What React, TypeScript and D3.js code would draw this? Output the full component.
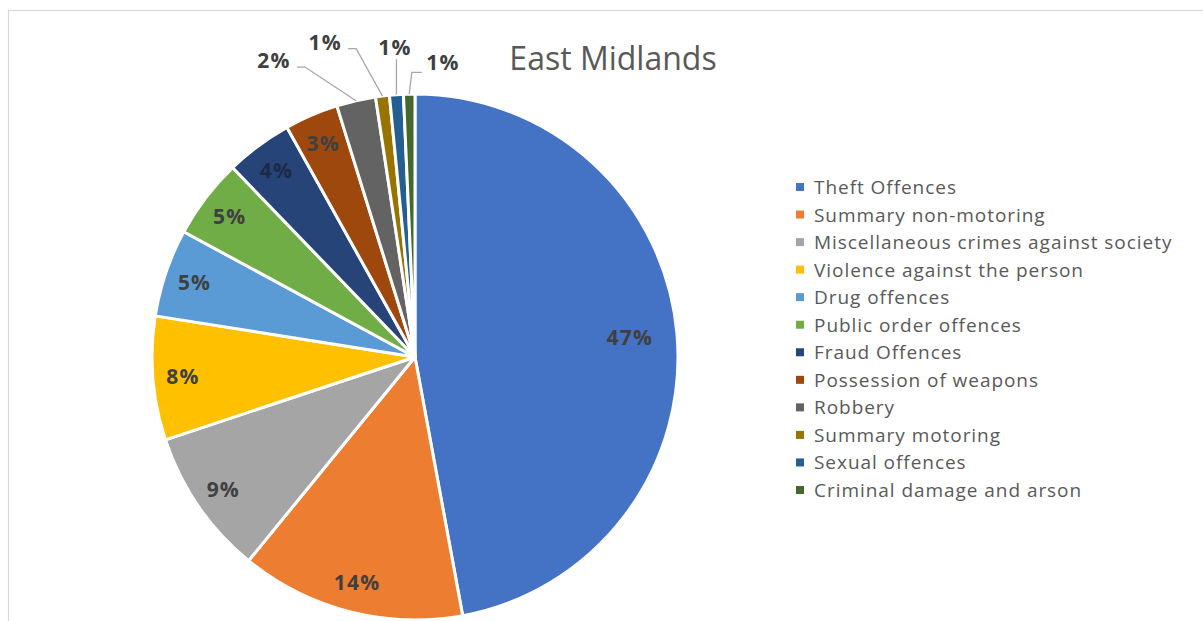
import React from "react";
import * as d3 from "d3";

const categories = [
  "Theft Offences",
  "Summary non-motoring",
  "Miscellaneous crimes against society",
  "Violence against the person",
  "Drug offences",
  "Public order offences",
  "Fraud Offences",
  "Possession of weapons",
  "Robbery",
  "Summary motoring",
  "Sexual offences",
  "Criminal damage and arson",
];
const values = [47.1, 13.8, 9.0, 7.6, 5.4, 4.9, 4.1, 3.3, 2.4, 0.85, 0.85, 0.7];
const colors = [
  "#4472C4", "#ED7D31", "#A5A5A5", "#FFC000", "#5B9BD5", "#70AD47",
  "#264478", "#9E480E", "#636363", "#997300", "#255E91", "#43682B",
];
const title = "East Midlands";

// outside label placement (angle in degrees clockwise from top, radius factor)
const outsideLabels: Record<number, { ang: number; rf: number; side: "left" | "right" | "below" }> = {
  8: { ang: 334.6, rf: 1.25, side: "left" },
  9: { ang: 344.1, rf: 1.247, side: "left" },
  10: { ang: 356.3, rf: 1.18, side: "below" },
  11: { ang: 5.4, rf: 1.125, side: "right" },
};

export default function App() {
  const W = 1203, H = 621;
  const cx = 415, cy = 357, R = 263;
  const total = d3.sum(values);
  const pie = d3.pie<number>().sort(null).startAngle(0).endAngle(2 * Math.PI).value((d) => d);
  const arcs = pie(values);
  const arc = d3.arc<d3.PieArcDatum<number>>().innerRadius(0).outerRadius(R);
  const fmt = d3.format(".0%");
  const polar = (ang: number, r: number): [number, number] => [
    cx + r * Math.sin(ang),
    cy - r * Math.cos(ang),
  ];
  const legendY = d3.scaleLinear().domain([0, categories.length - 1]).range([187, 490]);

  return (
    <svg width={W} height={H} style={{ position: "absolute", left: 0, top: 0, background: "#fff" }}>
      <rect x={8.5} y={10.5} width={1230} height={640} fill="#fff" stroke="#d9d9d9" strokeWidth={1.2} />
      <g>
        {arcs.map((a, i) => (
          <path
            key={i}
            d={arc(a) || ""}
            transform={`translate(${cx},${cy})`}
            fill={colors[i]}
            stroke="#fff"
            strokeWidth={3}
            strokeLinejoin="round"
          />
        ))}
      </g>
      <g fontFamily="'Open Sans', sans-serif" fontWeight={700} fontSize={21} letterSpacing={1.2} fill="#404040">
        {arcs.map((a, i) => {
          const mid = (a.startAngle + a.endAngle) / 2;
          const label = fmt(values[i] / total);
          const o = outsideLabels[i];
          if (o) {
            const [lx, ly] = polar((o.ang * Math.PI) / 180, R * o.rf);
            const [ex, ey] = polar(mid, R);
            let pts: [number, number][];
            if (o.side === "left") {
              pts = [[lx + 23, ly + 7], [lx + 31, ly + 7], [ex, ey]];
            } else if (o.side === "right") {
              pts = [[lx - 21, ly + 10], [lx - 31, ly + 10], [ex, ey]];
            } else {
              pts = [[ex, ly + 12], [ex, ey]];
            }
            return (
              <g key={i}>
                <polyline
                  points={pts.map((p) => p.join(",")).join(" ")}
                  fill="none"
                  stroke="#a6a6a6"
                  strokeWidth={1.3}
                />
                <text x={lx} y={ly} textAnchor="middle" dominantBaseline="central">
                  {label}
                </text>
              </g>
            );
          }
          const rf = i === 0 ? 0.82 : 0.885;
          const [lx, ly] = polar(mid, R * rf);
          return (
            <text key={i} x={lx} y={ly} textAnchor="middle" dominantBaseline="central"
              fill={i === 6 ? "#1c2a48" : "#404040"}>
              {label}
            </text>
          );
        })}
      </g>
      <text x={613} y={57} textAnchor="middle" dominantBaseline="central"
        fontFamily="'Open Sans', sans-serif" fontSize={32} fill="#595959">
        {title}
      </text>
      <g fontFamily="'Open Sans', sans-serif" fontSize={19} letterSpacing={0.95} fill="#595959">
        {categories.map((c, i) => (
          <g key={c} transform={`translate(0,${legendY(i)})`}>
            <rect x={796} y={-4} width={8} height={8} fill={colors[i]} />
            <text x={814} y={0} dominantBaseline="central">{c}</text>
          </g>
        ))}
      </g>
    </svg>
  );
}
